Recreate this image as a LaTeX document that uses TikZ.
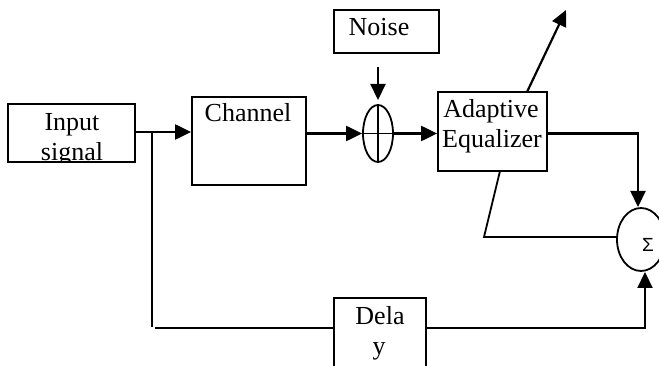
\documentclass[tikz,border=0pt]{standalone}
\usepackage{fontspec}
\setmainfont{Liberation Serif}
\newfontfamily\sumfont{Liberation Sans}
\usetikzlibrary{arrows.meta,shapes.geometric}
\begin{document}
\begin{tikzpicture}[x=1pt,y=-1pt,
  box/.style={draw,line width=1.8pt,rectangle,inner sep=0pt},
  oval/.style={draw,line width=1.8pt,ellipse,inner sep=0pt},
  wire/.style={line width=1.8pt},
  arr/.style={line width=2.2pt,-{Triangle[length=16pt,width=15pt]}},
  txt/.style={inner sep=0pt,anchor=base,font=\fontsize{26}{30}\selectfont}]
\useasboundingbox (0,0) rectangle (659,366);
% boxes
\node[box,minimum width=127pt,minimum height=58pt] (in) at (71.5,133) {};
\node[box,minimum width=114pt,minimum height=88pt] (ch) at (249,141) {};
\node[box,minimum width=105pt,minimum height=43pt] (nz) at (386.5,31.5) {};
\node[box,minimum width=109pt,minimum height=79pt] (ae) at (492.5,131.5) {};
\node[box,minimum width=92pt,minimum height=70pt] (dl) at (380,333) {};
\node[oval,minimum width=30pt,minimum height=57pt] (pl) at (378,133.5) {};
\node[oval,minimum width=48pt,minimum height=63pt] (sum) at (641,239.5) {};
% texts
\begin{scope}
\clip (8,104) rectangle (135,162);
\node[txt] (tin1) at (72,130.5) {Input};
\node[txt] (tin2) at (72,160.5) {signal};
\end{scope}
\node[txt] (tch) at (248,121.5) {Channel};
\node[txt] (tnz) at (379,36) {Noise};
\node[txt] (tae1) at (491,118) {Adaptive};
\node[txt] (tae2) at (492,148) {Equalizer};
\node[txt] (tdl1) at (380,324) {Dela};
\node[txt] (tdl2) at (379,354) {y};
\node[inner sep=0pt,font=\sumfont\fontsize{19}{19}\selectfont] (tsum) at (648,245) {Σ};
% plus cross
\draw[line width=1.5pt] (pl.north) -- (pl.south);
\draw[line width=1.5pt] (pl.west) -- (pl.east);
% coordinates
\coordinate (inout) at (135,132);
\coordinate (brtop) at (152,132);
\coordinate (brbot) at (152,327);
\coordinate (dlin) at (155,328);
\coordinate (nzarr) at (378,67);
\coordinate (nztip) at (378,100);
\coordinate (outtip) at (566,10);
\coordinate (aeout) at (527,92);
\coordinate (aeb) at (500,171);
\coordinate (fbk) at (484,237);
\coordinate (sumtop) at (638,207);
\coordinate (sumbot) at (645,272);
% connectors
\draw[arr] (in.east |- inout) -- (ch.west |- inout);
\draw[wire] (brtop) -- (brbot);
\draw[wire] (dlin) -- (dl.west |- dlin);
\draw[arr] (ch.east |- pl.west) -- (pl.west);
\draw[arr] (nzarr) -- (nztip);
\draw[arr] (pl.east) -- (ae.west |- pl.east);
\draw[arr] (aeout) -- (outtip);
\draw[arr] (ae.east |- pl.east) -| (sumtop);
\draw[wire] (aeb) -- (fbk) -- (sum.west |- fbk);
\draw[arr] (dl.east |- dlin) -| (sumbot);
\end{tikzpicture}
\end{document}
